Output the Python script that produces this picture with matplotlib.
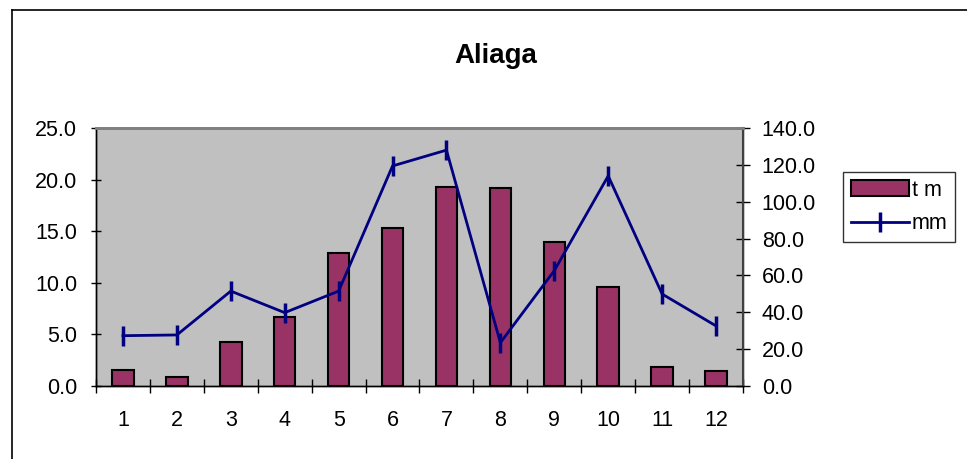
import numpy as np
import matplotlib.pyplot as plt
from matplotlib.lines import Line2D

plt.rcParams['font.family'] = ['Liberation Sans', 'DejaVu Sans']

months = ['1', '2', '3', '4', '5', '6', '7', '8', '9', '10', '11', '12']
tm = [1.55, 0.85, 4.3, 6.7, 12.9, 15.3, 19.3, 19.2, 14.0, 9.6, 1.85, 1.5]
mm = [27.3, 27.7, 51.5, 39.8, 51.5, 119.4, 128.0, 23.5, 62.6, 114.0, 49.9, 32.6]

fig = plt.figure(figsize=(9.67, 4.59), dpi=100)
ax = fig.add_axes([96/967, 1-386/459, (743-96)/967, (386-128)/459])
ax.set_facecolor('#C0C0C0')

x = np.arange(len(months))
ax.bar(x, tm, width=0.4, color='#993366', edgecolor='black', linewidth=1.5, zorder=2)
ax.set_xlim(-0.5, 11.5)
ax.set_ylim(0, 25)
ax.set_yticks(np.arange(0, 25.1, 5))
ax.set_yticklabels(['%.1f' % v for v in np.arange(0, 25.1, 5)])
ax.set_xticks(x)
ax.set_xticklabels(months)
ax.set_xticks(np.arange(-0.5, 12, 1), minor=True)
ax.tick_params(axis='x', which='major', length=0, pad=17, labelsize=15.5)
ax.tick_params(axis='x', which='minor', length=10, width=1, direction='inout')
ax.tick_params(axis='y', length=7, width=1, direction='inout', labelsize=15.5, pad=10)

ax2 = ax.twinx()
ax2.plot(x, mm, color='#000080', linewidth=2, marker='|', markersize=14,
         markeredgewidth=2.5, zorder=3)
ax2.set_ylim(0, 140)
ax2.set_yticks(np.arange(0, 140.1, 20))
ax2.set_yticklabels(['%.1f' % v for v in np.arange(0, 140.1, 20)])
ax2.tick_params(axis='y', length=10, width=1, direction='inout', labelsize=15.5, pad=8.5)

for a in (ax, ax2):
    a.spines['top'].set_color('#808080')
    a.spines['top'].set_linewidth(2)
    for s in ('left', 'right', 'bottom'):
        a.spines[s].set_color('black')
        a.spines[s].set_linewidth(1)
ax2.spines['right'].set_color('#404040')
ax2.spines['right'].set_linewidth(1.5)

fig.text(496/967, 1 - 63/459, 'Aliaga', ha='center', va='baseline',
         fontsize=20, fontweight='bold')

handles = [plt.Rectangle((0, 0), 1, 1, facecolor='#993366', edgecolor='black', linewidth=1.5),
           Line2D([], [], color='#000080', linewidth=2, marker='|', markersize=14,
                  markeredgewidth=2.5)]
leg = fig.legend(handles, ['t m', 'mm'], loc='upper left',
                 bbox_to_anchor=(843/967, 1-172/459), borderaxespad=0,
                 fancybox=False, edgecolor='black', fontsize=15.5,
                 handlelength=2.7, handletextpad=0.15, labelspacing=0.6,
                 borderpad=0.35)
leg.get_frame().set_linewidth(1)

# outer chart border
fig.add_artist(Line2D([12/967, 12/967], [0, 1-10/459], color='black', linewidth=1.2,
                      transform=fig.transFigure))
fig.add_artist(Line2D([12/967, 1], [1-10/459, 1-10/459], color='black', linewidth=1.2,
                      transform=fig.transFigure))

fig.savefig('out.png', dpi=100)
